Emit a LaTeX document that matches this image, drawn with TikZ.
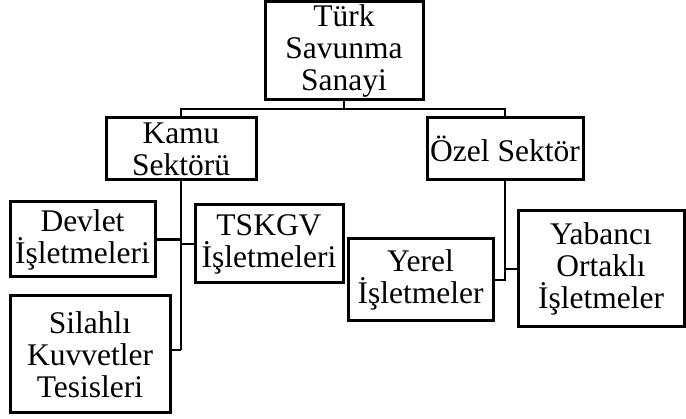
\documentclass[tikz,border=0pt]{standalone}
\usepackage{fontspec}
\setmainfont{Liberation Serif}
\begin{document}
\begin{tikzpicture}[x=1pt,y=-1pt,
  box/.style={draw=black, line width=3pt, rectangle, inner sep=0pt, align=center,
    font=\fontsize{31.5}{32}\selectfont, text=black},
  conn/.style={draw=black, line width=2.6pt}]
\useasboundingbox (0,0) rectangle (686,419);
\node[box, minimum width=158pt, minimum height=98pt] (top) at (344,51) {Türk\\Savunma\\Sanayi};
\node[box, minimum width=150pt, minimum height=62pt] (kamu) at (181,149) {Kamu\\Sektörü};
\node[box, minimum width=156pt, minimum height=62pt] (ozel) at (505,149) {Özel Sektör};
\node[box, minimum width=145pt, minimum height=75pt] (devlet) at (82.5,239.5) {Devlet\\İşletmeleri};
\node[box, minimum width=148pt, minimum height=78pt] (tskgv) at (269,244) {TSKGV\\İşletmeleri};
\node[box, minimum width=160pt, minimum height=117pt] (silahli) at (90,354.5) {Silahlı\\Kuvvetler\\Tesisleri};
\node[box, minimum width=145pt, minimum height=82pt] (yerel) at (420.5,280) {Yerel\\İşletmeler};
\node[box, minimum width=166pt, minimum height=116pt] (yabanci) at (601,269) {Yabancı\\Ortaklı\\İşletmeler};
% top level connectors
\coordinate (tj) at (344,109);
\draw[conn] (top.south) -- (tj);
\draw[conn] (kamu.north) -- (kamu.north |- tj) -- (ozel.north |- tj) -- (ozel.north);
% kamu branch
\coordinate (ks) at (181,350);
\draw[conn] (kamu.south) -- (ks);
\draw[conn] (devlet.east) -- (ks |- devlet.east);
\draw[conn] (ks |- tskgv.west) -- (tskgv.west);
\draw[conn] (ks) -- (silahli.east |- ks);
% ozel branch
\coordinate (oe) at (505,280);
\draw[conn] (ozel.south) -- (oe) -- (yerel.east);
\draw[conn] (oe |- yabanci.west) -- (yabanci.west);
\end{tikzpicture}
\end{document}
